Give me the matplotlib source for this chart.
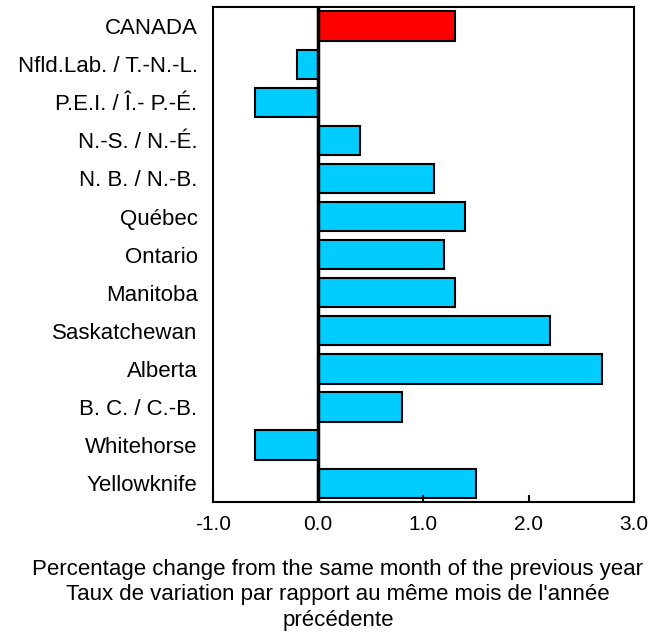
import matplotlib
matplotlib.use("Agg")
import matplotlib.pyplot as plt

plt.rcParams['font.family'] = ['Liberation Sans', 'DejaVu Sans']

# Données
regions = ["CANADA", "Nfld.Lab. / T.-N.-L.", "P.E.I. / Î.- P.-É.", "N.-S. / N.-É.",
           "N. B. / N.-B.", "Québec", "Ontario", "Manitoba", "Saskatchewan",
           "Alberta", "B. C. / C.-B.", "Whitehorse", "Yellowknife"]
values = [1.3, -0.2, -0.6, 0.4, 1.1, 1.4, 1.2, 1.3, 2.2, 2.7, 0.8, -0.6, 1.5]
colors = ["#ff0000"] + ["#00ccff"] * (len(regions) - 1)
xticks = [-1.0, 0.0, 1.0, 2.0, 3.0]

fig = plt.figure(figsize=(6.65, 6.39), dpi=100)
ax = fig.add_axes([0.320, 0.214, 0.633, 0.775])

pos = list(range(len(regions)))
ax.barh(pos, values, height=0.77, color=colors, edgecolor="black", linewidth=1.5)
ax.axvline(0, color="black", linewidth=2.5)

ax.set_xlim(-1, 3)
ax.set_ylim(len(regions) - 0.5, -0.5)
ax.set_yticks(pos)
ax.set_yticklabels(regions, fontsize=16)
ax.tick_params(axis="y", length=0, pad=11)
ax.set_xticks(xticks)
ax.set_xticklabels([f"{t:.1f}" for t in xticks], fontsize=15)
ax.tick_params(axis="x", direction="in", length=5, width=1.5, pad=9)

for s in ax.spines.values():
    s.set_linewidth(1.5)

fig.text(0.508, 0.069,
         "Percentage change from the same month of the previous year\n"
         "Taux de variation par rapport au même mois de l'année\n"
         "précédente",
         ha="center", va="center", fontsize=16, linespacing=1.3)

fig.savefig("out.png", dpi=100)
